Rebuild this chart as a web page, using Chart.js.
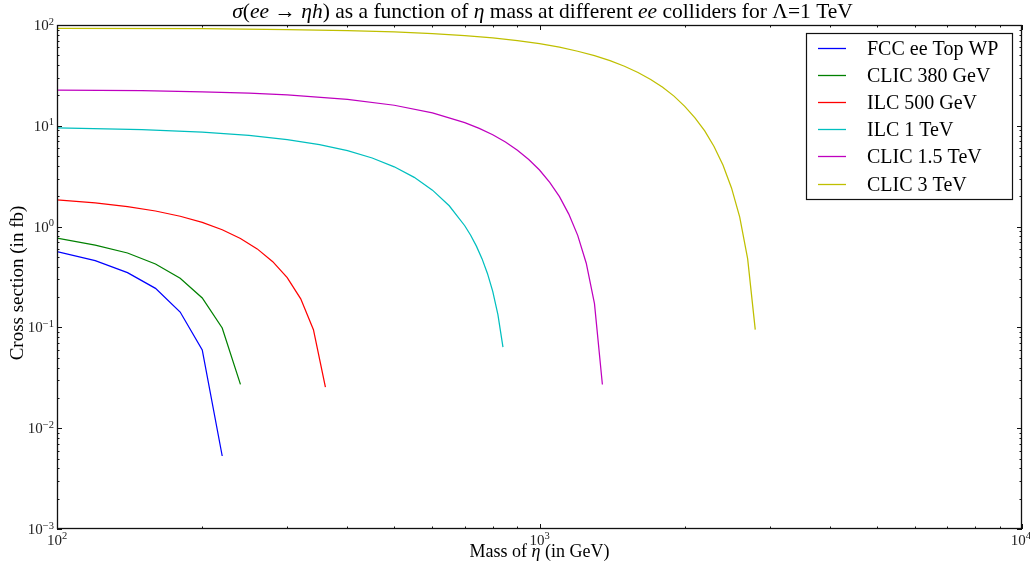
<!DOCTYPE html>
<html><head><meta charset="utf-8">
<script src="https://cdn.jsdelivr.net/npm/chart.js@4.4.0/dist/chart.umd.min.js"></script>
<style>html,body{margin:0;padding:0;background:#fff;overflow:hidden}</style>
</head><body>
<canvas id="c" width="1030" height="565"></canvas>
<script>
// ---- data ----
const seriesNames = ["FCC ee Top WP", "CLIC 380 GeV", "ILC 500 GeV", "ILC 1 TeV", "CLIC 1.5 TeV", "CLIC 3 TeV"];
const seriesColors = ["#0000ff", "#008000", "#ff0000", "#00bfbf", "#bf00bf", "#bfbf00"];

const massFCC = [100, 120, 140, 160, 180, 200, 220];
const xsFCC   = [0.564, 0.459, 0.349, 0.244, 0.142, 0.0597, 0.0053];

const massCLIC380 = [100, 120, 140, 160, 180, 200, 220, 240];
const xsCLIC380   = [0.77, 0.656, 0.547, 0.426, 0.307, 0.196, 0.0986, 0.0272];

const massILC500 = [100, 120, 140, 160, 180, 200, 220, 240, 260, 280, 300, 320, 340, 360];
const xsILC500   = [1.84, 1.717, 1.579, 1.428, 1.267, 1.10, 0.930, 0.763, 0.601, 0.449, 0.312, 0.192, 0.0948, 0.0256];

const massILC1T = [100, 150, 200, 250, 300, 350, 400, 450, 500, 550, 600, 650, 700, 720, 740, 760, 780, 800, 820, 840];
const xsILC1T   = [9.55, 9.17, 8.66, 8.04, 7.31, 6.51, 5.66, 4.79, 3.92, 3.08, 2.30, 1.61, 1.02, 0.820, 0.640, 0.481, 0.343, 0.228, 0.134, 0.0637];

const massCLIC15 = [100, 150, 200, 250, 300, 400, 500, 600, 700, 750, 800, 850, 900, 950, 1000, 1050, 1100, 1150, 1200, 1250, 1300, 1350];
const xsCLIC15   = [22.65, 22.27, 21.74, 21.06, 20.26, 18.31, 15.99, 13.43, 10.76, 9.44, 8.15, 6.90, 5.73, 4.63, 3.64, 2.75, 1.98, 1.33, 0.819, 0.433, 0.172, 0.0271];

const massCLIC3 = [100, 200, 300, 400, 500, 600, 700, 800, 900, 1000, 1100, 1200, 1300, 1400, 1500, 1600, 1700, 1800, 1900, 2000, 2100, 2200, 2300, 2400, 2500, 2600, 2700, 2800];
const xsCLIC3   = [92.7, 91.8, 90.2, 88.1, 85.4, 82.2, 78.6, 74.5, 70.0, 65.2, 60.2, 54.9, 49.6, 44.3, 39.0, 33.8, 28.8, 24.1, 19.7, 15.6, 12.0, 8.89, 6.23, 4.08, 2.42, 1.24, 0.481, 0.0951];

const xTickValues = [100, 1000, 10000];
const xTickExps   = ["2", "3", "4"];
const yTickValues = [1e-3, 1e-2, 1e-1, 1, 10, 100];
const yTickExps   = ["\u22123", "\u22122", "\u22121", "0", "1", "2"];

const xAxisTitle = ["Mass of ", "\u03B7", " (in GeV)"];
const yAxisTitle = "Cross section (in fb)";
// title segments: [text, italic]
const titleSegs = [["\u03C3", 1], ["(", 0], ["ee", 1], [" \u2192 ", 0], ["\u03B7h", 1], [")", 0],
  [" as a function of ", 0], ["\u03B7", 1], [" mass at different ", 0], ["ee", 1],
  [" colliders for \u039B=1 TeV", 0]];

// ---- build datasets ----
const allMass = [massFCC, massCLIC380, massILC500, massILC1T, massCLIC15, massCLIC3];
const allXs = [xsFCC, xsCLIC380, xsILC500, xsILC1T, xsCLIC15, xsCLIC3];
const datasets = seriesNames.map((name, i) => ({
  label: name,
  data: allMass[i].map((m, j) => ({x: m, y: allXs[i][j]})),
  borderColor: seriesColors[i],
  backgroundColor: seriesColors[i],
  borderWidth: 1.25,
  pointRadius: 0,
  tension: 0,
  fill: false
}));

const SERIF = '"Liberation Serif", "Times New Roman", serif';

function drawRich(ctx, segs, x, y, size, align) {
  let total = 0;
  const widths = segs.map(([t, it]) => {
    ctx.font = (it ? 'italic ' : '') + size + 'px ' + SERIF;
    const w = ctx.measureText(t).width; total += w; return w;
  });
  let cx = align === 'center' ? x - total / 2 : x;
  ctx.textAlign = 'left';
  segs.forEach(([t, it], i) => {
    ctx.font = (it ? 'italic ' : '') + size + 'px ' + SERIF;
    ctx.fillText(t, cx, y);
    cx += widths[i];
  });
}

const framePlugin = {
  id: 'frame',
  afterDraw(chart) {
    const {ctx, chartArea: a, scales: {x, y}} = chart;
    ctx.save();
    ctx.strokeStyle = '#111';
    ctx.fillStyle = '#111';
    // ticks
    ctx.lineWidth = 1;
    const major = 5, minor = 2.5;
    ctx.beginPath();
    for (let k = 2; k <= 4; k++) {
      for (let j = 1; j <= 9; j++) {
        const v = j * Math.pow(10, k);
        if (v < x.min || v > x.max) continue;
        const px = Math.round(x.getPixelForValue(v)) + 0.5;
        const L = j === 1 ? major : minor;
        ctx.moveTo(px, a.bottom); ctx.lineTo(px, a.bottom - L);
        ctx.moveTo(px, a.top); ctx.lineTo(px, a.top + L);
      }
    }
    for (let k = -3; k <= 2; k++) {
      for (let j = 1; j <= 9; j++) {
        const v = j * Math.pow(10, k);
        if (v < y.min * 0.999 || v > y.max * 1.001) continue;
        const py = Math.round(y.getPixelForValue(v)) + 0.5;
        const L = j === 1 ? major : minor;
        ctx.moveTo(a.left, py); ctx.lineTo(a.left + L, py);
        ctx.moveTo(a.right, py); ctx.lineTo(a.right - L, py);
      }
    }
    ctx.stroke();
    // frame
    ctx.lineWidth = 1.3;
    ctx.strokeRect(a.left + 0.5, a.top + 0.5, a.right - a.left - 1, a.bottom - a.top - 1);

    // tick labels
    ctx.fillStyle = '#222';
    ctx.textBaseline = 'alphabetic';
    const base = 15, sup = 10.5;
    xTickValues.forEach((v, i) => {
      const px = x.getPixelForValue(v);
      ctx.font = base + 'px ' + SERIF;
      const w1 = ctx.measureText('10').width;
      ctx.font = sup + 'px ' + SERIF;
      const w2 = ctx.measureText(xTickExps[i]).width;
      const left = Math.min(px - (w1 + w2) / 2, 1030 - w1 - w2 + 1);
      ctx.textAlign = 'left';
      ctx.font = base + 'px ' + SERIF;
      ctx.fillText('10', left, a.bottom + 16);
      ctx.font = sup + 'px ' + SERIF;
      ctx.fillText(xTickExps[i], left + w1, a.bottom + 10);
    });
    yTickValues.forEach((v, i) => {
      const py = y.getPixelForValue(v);
      ctx.font = sup + 'px ' + SERIF;
      const w2 = ctx.measureText(yTickExps[i]).width;
      const right = a.left - 3;
      ctx.textAlign = 'left';
      ctx.fillText(yTickExps[i], right - w2, py - 0.5);
      ctx.font = base + 'px ' + SERIF;
      ctx.textAlign = 'right';
      ctx.fillText('10', right - w2, py + 5);
    });

    // axis titles
    ctx.fillStyle = '#000';
    drawRich(ctx, [[xAxisTitle[0], 0], [xAxisTitle[1], 1], [xAxisTitle[2], 0]], (a.left + a.right) / 2, 557, 18, 'center');
    ctx.save();
    ctx.translate(23, (a.top + a.bottom) / 2 + 6);
    ctx.rotate(-Math.PI / 2);
    ctx.textAlign = 'center';
    ctx.font = '19px ' + SERIF;
    ctx.fillText(yAxisTitle, 0, 0);
    ctx.restore();

    // title
    drawRich(ctx, titleSegs.map(s => [s[0], s[1]]), (a.left + a.right) / 2 + 3, 18, 21.5, 'center');

    // legend
    const lx = 806, ly = 33, lw = 206, lh = 166;
    ctx.fillStyle = '#fff';
    ctx.fillRect(lx, ly, lw, lh);
    ctx.lineWidth = 1.2;
    ctx.strokeStyle = '#111';
    ctx.strokeRect(lx + 0.5, ly + 0.5, lw, lh);
    chart.data.datasets.forEach((ds, i) => {
      const yy = 48 + i * 27.1;
      ctx.strokeStyle = ds.borderColor;
      ctx.lineWidth = 1.3;
      ctx.beginPath();
      ctx.moveTo(818, Math.round(yy) + 0.5);
      ctx.lineTo(846, Math.round(yy) + 0.5);
      ctx.stroke();
      ctx.fillStyle = '#000';
      ctx.font = '20px ' + SERIF;
      ctx.textAlign = 'left';
      ctx.textBaseline = 'alphabetic';
      ctx.fillText(ds.label, 867, yy + 7);
    });
    ctx.restore();
  }
};

new Chart(document.getElementById('c'), {
  type: 'line',
  data: {datasets},
  options: {
    responsive: false,
    animation: false,
    devicePixelRatio: 1,
    layout: {padding: {left: 0, right: 8, top: 25, bottom: 0}},
    plugins: {legend: {display: false}, title: {display: false}, tooltip: {enabled: false}},
    scales: {
      x: {
        type: 'logarithmic', min: 100, max: 10000,
        grid: {display: false}, border: {display: false},
        ticks: {display: false},
        afterFit(s) { s.height = 36; }
      },
      y: {
        type: 'logarithmic', min: 1e-3, max: 100,
        grid: {display: false}, border: {display: false},
        ticks: {display: false},
        afterFit(s) { s.width = 57; }
      }
    }
  },
  plugins: [framePlugin]
});
</script>
</body></html>
